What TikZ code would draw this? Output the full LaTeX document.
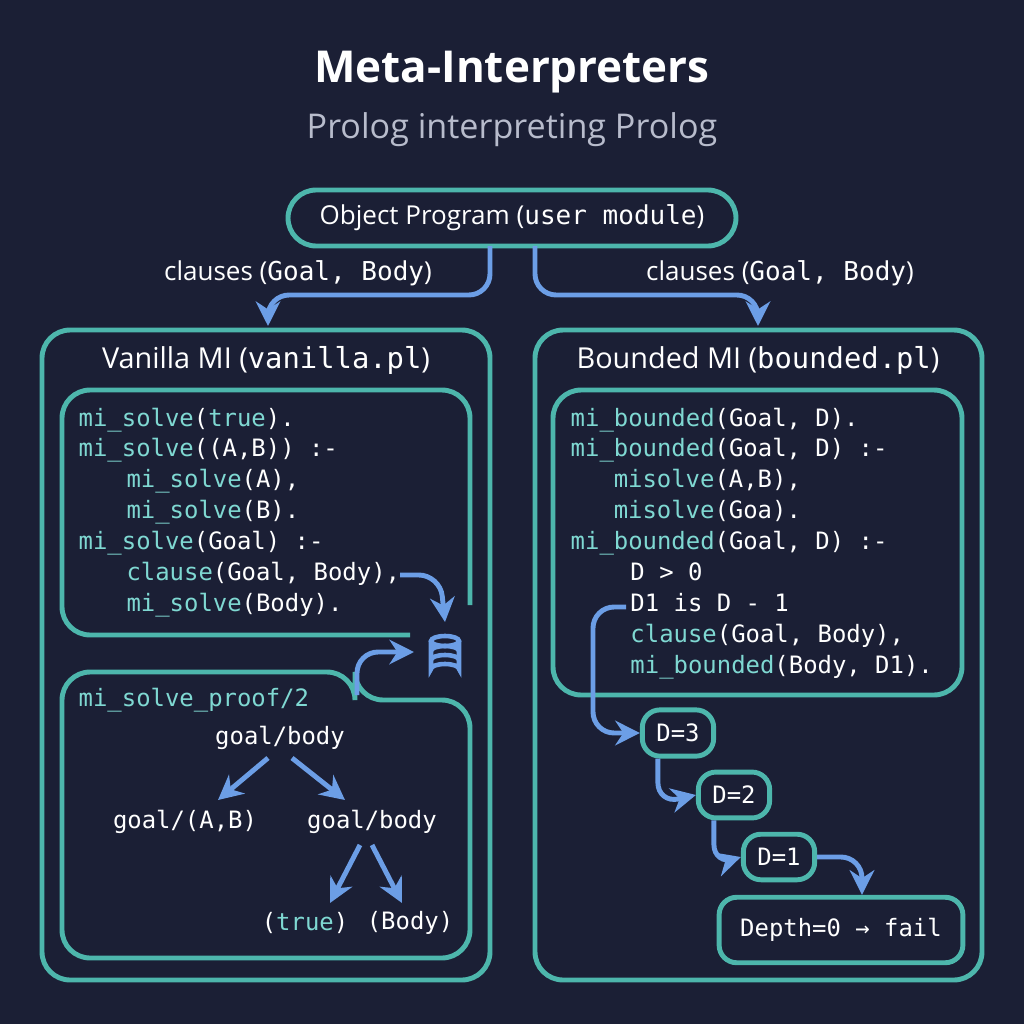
\documentclass[tikz,border=0pt]{standalone}
\usepackage{fontspec}
\setmainfont{Open Sans}
\setmonofont{DejaVu Sans Mono}
\usetikzlibrary{arrows.meta}
\definecolor{bg}{HTML}{1B1F35}
\definecolor{teal}{HTML}{4DB6AC}
\definecolor{kw}{HTML}{7FD8D2}
\definecolor{arr}{HTML}{6C9EE6}
\definecolor{sub}{HTML}{B8BCCC}
\newcommand{\kw}[1]{\textcolor{kw}{#1}}
\tikzset{
  frame/.style={draw=teal, line width=1.4pt, rounded corners=8pt},
  flow/.style={draw=arr, line width=1.4pt, rounded corners=6pt, -{Stealth[length=7pt,width=7pt]}},
  code/.style={anchor=north west, align=left, text=white, font=\ttfamily\fontsize{6.8}{8.8}\selectfont, inner sep=0pt},
  lbl/.style={text=white, font=\fontsize{7.4}{9}\selectfont},
  dbox/.style={frame, rounded corners=5pt, text=white, font=\ttfamily\fontsize{6.8}{8}\selectfont, inner sep=4pt}
}
\begin{document}
\begin{tikzpicture}[x=0.01cm, y=-0.01cm]
\fill[bg] (0,0) rectangle (1024,1024);
\useasboundingbox (0,0) rectangle (1024,1024);

% title
\node[text=white, font=\bfseries\fontsize{12.5}{14}\selectfont] (title) at (512,72) {Meta-Interpreters};
\node[text=sub, font=\fontsize{9.7}{12}\selectfont] (subtitle) at (512,130) {Prolog interpreting Prolog};

% object program
\draw[frame] (288,190) rectangle (736,246);
\node[lbl] (obj) at (512,218) {Object Program (\texttt{user module})};
\coordinate (lin) at (268,326);
\coordinate (rin) at (758,326);
\draw[flow] (490,246) -- (490,295) -- (268,295) -- (lin);
\draw[flow] (535,246) -- (535,295) -- (758,295) -- (rin);
\node[lbl] (lclause) at (298,273) {clauses (\texttt{Goal, Body})};
\node[lbl] (rclause) at (780,273) {clauses (\texttt{Goal, Body})};

% left panel
\draw[frame] (42,330) rectangle (490,980);
\node[lbl, font=\fontsize{8.2}{10}\selectfont] (vtitle) at (266,360) {Vanilla MI (\texttt{vanilla.pl})};
\draw[frame] (470,605) -- (470,390) -- (62,390) -- (62,635) -- (410,635);
\node[code] (vcode) at (78,407) {\kw{mi\_solve}(\kw{true}).\\
\kw{mi\_solve}((A,B)) :-\\
\hspace{2em}\kw{mi\_solve}(A),\\
\hspace{2em}\kw{mi\_solve}(B).\\
\kw{mi\_solve}(Goal) :-\\
\hspace{2em}\kw{clause}(Goal, Body),\\
\hspace{2em}\kw{mi\_solve}(Body).};

% database icon
\begin{scope}[shift={(445,655)}, draw=arr, line width=1.3pt]
  \draw (-14,-14) -- (-14,14) arc[start angle=180, end angle=360, x radius=14, y radius=5] -- (14,-14);
  \draw (0,-14) ellipse[x radius=14, y radius=5];
  \draw (-14,-4) arc[start angle=180, end angle=360, x radius=14, y radius=5];
  \draw (-14,5) arc[start angle=180, end angle=360, x radius=14, y radius=5];
\end{scope}
\coordinate (dbtop) at (445,622);
\coordinate (dbleft) at (414,652);
\draw[flow] (400,575) -- (440,575) -- (dbtop);

% proof panel
\draw[frame] (62,672) -- (355,672) -- (355,700) -- (470,700) -- (470,958) -- (62,958) -- cycle;
\draw[flow] (357,695) -- (357,652) -- (dbleft);
\node[code, anchor=west, text=kw] (ptitle) at (78,700) {mi\_solve\_proof/2};
\node[code, anchor=center] (root) at (280,738) {goal/body};
\node[code, anchor=center] (ab) at (185,822) {goal/(A,B)};
\node[code, anchor=center] (gb) at (372,822) {goal/body};
\node[code, anchor=center] (tr) at (305,923) {(\kw{true})};
\node[code, anchor=center] (bd) at (410,923) {(Body)};
\draw[flow] (268,758) -- (218,800);
\draw[flow] (292,758) -- (345,800);
\draw[flow] (360,845) -- (330,903);
\draw[flow] (372,845) -- (402,903);

% right panel
\draw[frame] (535,330) rectangle (982,980);
\node[lbl, font=\fontsize{8.2}{10}\selectfont] (btitle) at (758,360) {Bounded MI (\texttt{bounded.pl})};
\draw[frame] (553,390) rectangle (962,695);
\node[code] (bcode) at (570,407) {\kw{mi\_bounded}(Goal, D).\\
\kw{mi\_bounded}(Goal, D) :-\\
\hspace{1.8em}\kw{misolve}(A,B),\\
\hspace{1.8em}\kw{misolve}(Goa).\\
\kw{mi\_bounded}(Goal, D) :-\\
\hspace{2.5em}D > 0\\
\hspace{2.5em}D1 is D - 1\\
\hspace{2.5em}\kw{clause}(Goal, Body),\\
\hspace{2.5em}\kw{mi\_bounded}(Body, D1).};

% depth chain
\node[dbox] (d3) at (678,733) {D=3};
\node[dbox] (d2) at (734,795) {D=2};
\node[dbox] (d1) at (779,857) {D=1};
\node[dbox, inner sep=6pt] (d0) at (841,930) {Depth=0 → fail};
\draw[flow] (626,607) -- (593,607) -- (593,733) -- (d3.west);
\draw[flow] (d3.south west) ++(18,0) -- ++(0,45) -- (d2.west);
\draw[flow] (d2.south west) ++(18,0) -- ++(0,45) -- (d1.west);
\draw[flow] (d1.east) -- (862,857) -- (d0.north -| 862,0);
\end{tikzpicture}
\end{document}
